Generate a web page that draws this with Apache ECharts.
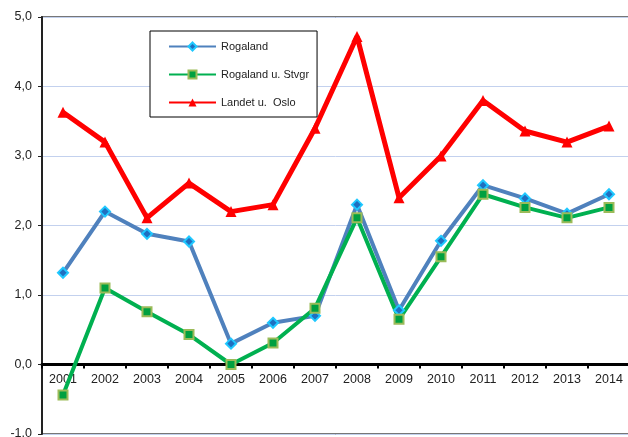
<!DOCTYPE html>
<html>
<head>
<meta charset="utf-8">
<script src="https://cdn.jsdelivr.net/npm/echarts@6/dist/echarts.min.js"></script>
<style>
  html, body { margin: 0; padding: 0; background: #fff; }
  #contain { width: 628px; height: 437px; }
</style>
</head>
<body>
<div id="contain"></div>
<script>
// data
const years = ['2001', '2002', '2003', '2004', '2005', '2006', '2007', '2008', '2009', '2010', '2011', '2012', '2013', '2014'];
const rogaland = [1.32, 2.2, 1.88, 1.77, 0.3, 0.6, 0.7, 2.3, 0.78, 1.78, 2.58, 2.39, 2.17, 2.45];
const rogalandUStvgr = [-0.44, 1.1, 0.76, 0.43, 0.0, 0.31, 0.81, 2.11, 0.65, 1.55, 2.45, 2.26, 2.11, 2.26];
const landetUOslo = [3.63, 3.2, 2.11, 2.61, 2.2, 2.3, 3.4, 4.72, 2.4, 3.0, 3.8, 3.36, 3.2, 3.43];
const seriesNames = ['Rogaland', 'Rogaland u. Stvgr', 'Landet u.  Oslo'];

const chartDom = document.getElementById('contain');
const myChart = echarts.init(chartDom);
const font = 'Liberation Sans, Arial, sans-serif';

const gridTop = 17, gridBottom = 3;
const yMin = -1, yMax = 5;
// move the category axis up so it sits on the zero line
const plotH = 437 - gridTop - gridBottom;
const zeroOffset = -plotH * (0 - yMin) / (yMax - yMin);

const option = {
  animation: false,
  textStyle: { fontFamily: font },
  grid: {
    left: 42, right: -2, top: gridTop, bottom: gridBottom,
    outerBoundsMode: 'none',
    containLabel: false,
    show: true, borderColor: '#777', borderWidth: 2
  },
  legend: {
    orient: 'vertical',
    left: 150, top: 31,
    padding: [10, 8, 9, 18],
    itemWidth: 47, itemHeight: 10, itemGap: 17,
    borderColor: '#000', borderWidth: 1,
    backgroundColor: '#fff',
    textStyle: { fontSize: 11, color: '#222', fontFamily: font },
    data: seriesNames
  },
  xAxis: {
    type: 'category',
    data: years,
    offset: zeroOffset,
    axisLine: { onZero: false, lineStyle: { color: '#000', width: 3 } },
    axisTick: { show: true, length: 4, lineStyle: { color: '#000', width: 2 } },
    axisLabel: { color: '#222', fontSize: 12.5, margin: 9, fontFamily: font },
    splitLine: { show: false }
  },
  yAxis: {
    type: 'value',
    min: yMin, max: yMax, interval: 1,
    axisLine: { show: true, lineStyle: { color: '#222', width: 2 } },
    axisTick: { show: true, length: 4, lineStyle: { color: '#222' } },
    axisLabel: {
      color: '#222', fontSize: 12.5, margin: 10, fontFamily: font,
      formatter: v => v.toFixed(1).replace('.', ',')
    },
    splitLine: { lineStyle: { color: '#c3d1ee', width: 1 } }
  },
  series: [
    {
      name: seriesNames[0],
      type: 'line',
      data: rogaland,
      symbol: 'diamond',
      symbolSize: 10,
      lineStyle: { color: '#4f81bd', width: 4 },
      itemStyle: { color: '#1f6fc0', borderColor: '#1fc8ff', borderWidth: 2 }
    },
    {
      name: seriesNames[1],
      type: 'line',
      data: rogalandUStvgr,
      symbol: 'rect',
      symbolSize: 9,
      lineStyle: { color: '#00b050', width: 4 },
      itemStyle: { color: '#00a040', borderColor: '#9bbb59', borderWidth: 2 }
    },
    {
      name: seriesNames[2],
      type: 'line',
      data: landetUOslo,
      symbol: 'triangle',
      symbolSize: 11,
      lineStyle: { color: '#ff0000', width: 5 },
      itemStyle: { color: '#ff0000' }
    }
  ]
};

myChart.setOption(option);
</script>
</body>
</html>
